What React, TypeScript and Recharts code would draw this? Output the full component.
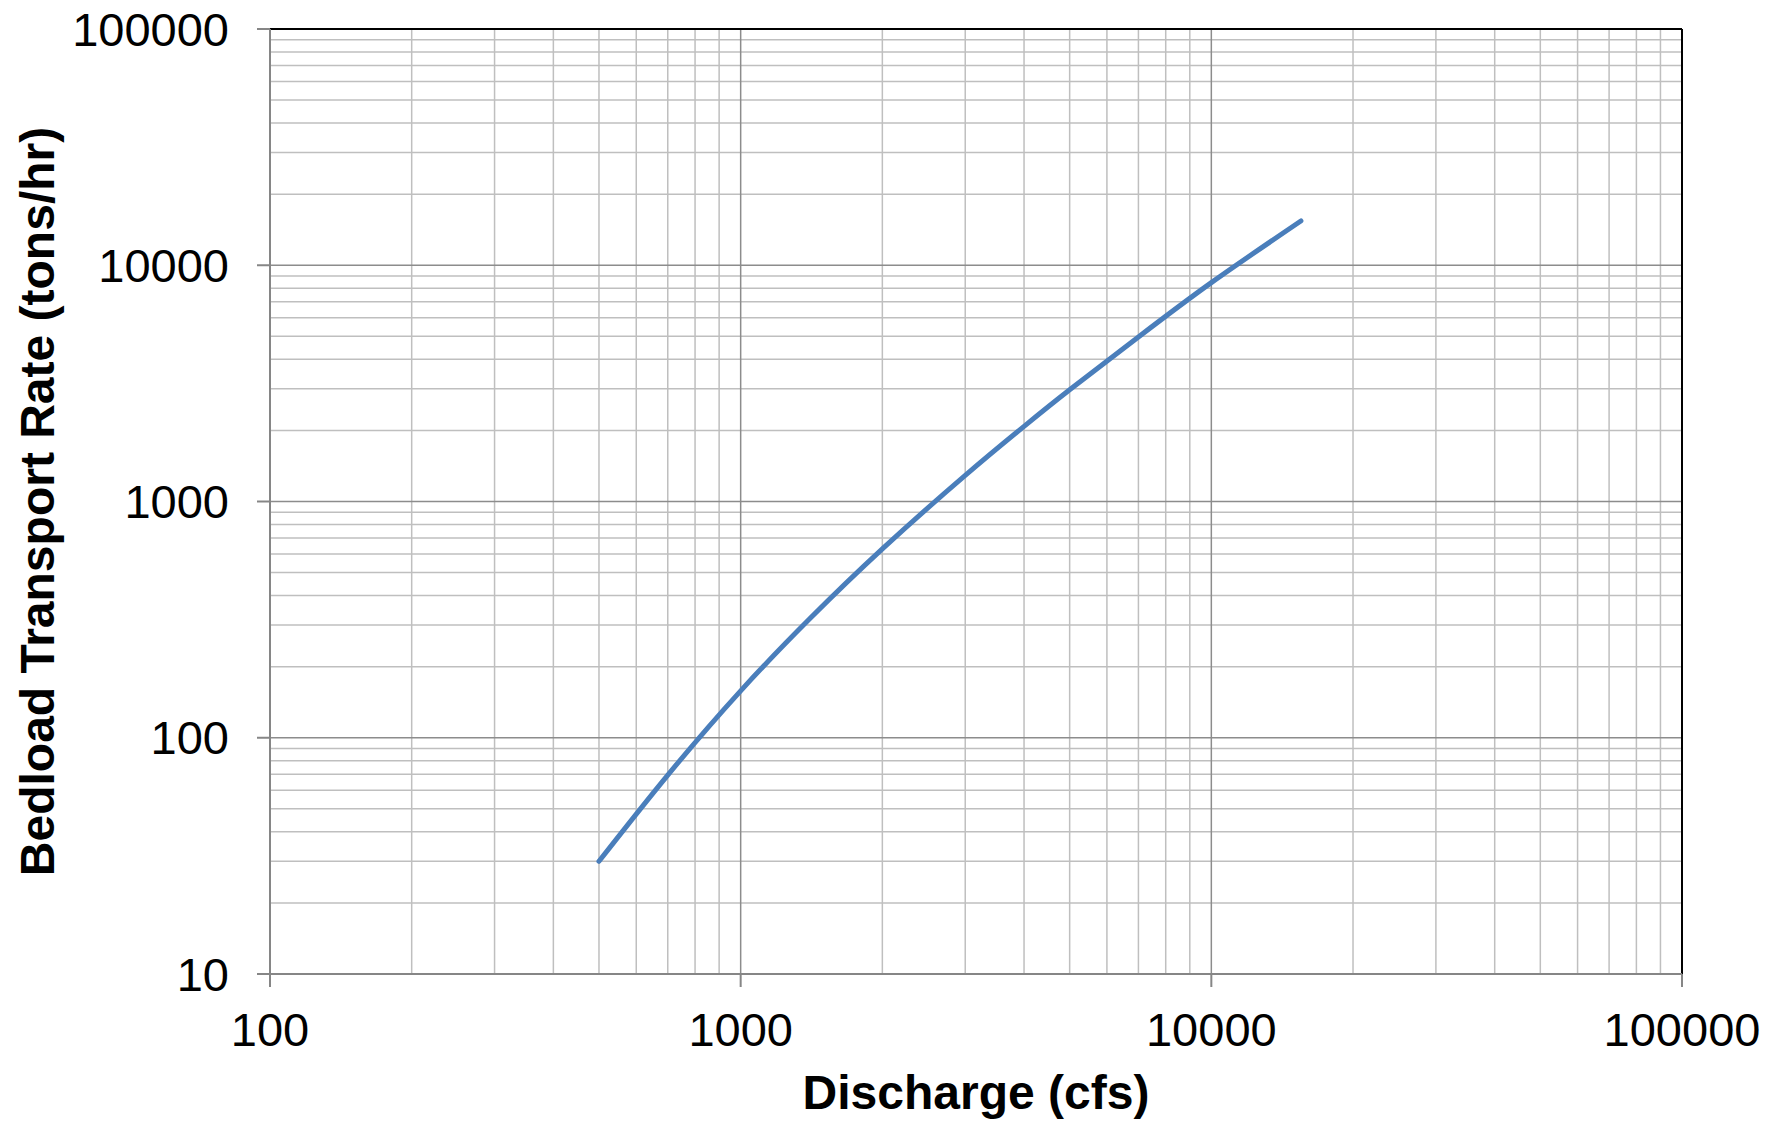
import React from 'react';
import {CartesianGrid, Line, LineChart, ReferenceLine, XAxis, YAxis} from 'recharts';

// values (log-log)
const discharge = [500, 700, 1000, 1400, 2000, 3000, 4000, 5000, 7000, 10000, 15500];
const transport = [30, 69.5, 158, 318, 630, 1290, 2080, 2970, 4970, 8440, 15400];

const xTicks = [100, 1000, 10000, 100000];
const yTicks = [10, 100, 1000, 10000, 100000];
const xMinor = [200, 300, 400, 500, 600, 700, 800, 900, 2000, 3000, 4000, 5000, 6000, 7000, 8000, 9000,
  20000, 30000, 40000, 50000, 60000, 70000, 80000, 90000];
const yMinor = [20, 30, 40, 50, 60, 70, 80, 90, 200, 300, 400, 500, 600, 700, 800, 900,
  2000, 3000, 4000, 5000, 6000, 7000, 8000, 9000, 20000, 30000, 40000, 50000, 60000, 70000, 80000, 90000];
const xMajor = [1000, 10000];
const yMajor = [100, 1000, 10000];

const data = discharge.map((q, i) => ({q, rate: transport[i]}));

const FONT = '"Liberation Sans", Arial, sans-serif';

const YTitle = ({viewBox}) => {
  const cx = viewBox.x + 37;
  const cy = viewBox.y + viewBox.height / 2;
  return (
    <text x={cx} y={cy} transform={`rotate(-90, ${cx}, ${cy})`} textAnchor="middle" dominantBaseline="central"
          fontFamily={FONT} fontSize={48} fontWeight="bold" fill="#000">
      Bedload Transport Rate (tons/hr)
    </text>
  );
};

const XTitle = ({viewBox}) => (
  <text x={viewBox.x + viewBox.width / 2} y={viewBox.y + 135} textAnchor="middle"
        fontFamily={FONT} fontSize={48} fontWeight="bold" fill="#000">
    Discharge (cfs)
  </text>
);

export default function App() {
  const tickStyle = {fontFamily: FONT, fontSize: 47, fill: '#000'};
  const axisStroke = {stroke: '#868686', strokeWidth: 2};
  return (
    <div style={{position: 'absolute', left: 0, top: 0, background: '#fff'}}>
      <LineChart width={1786} height={1123} data={data} margin={{top: 29, right: 104, bottom: 0, left: 0}}>
        <CartesianGrid horizontalValues={yMinor} verticalValues={xMinor} stroke="#bfbfbf" strokeWidth={1.5}/>
        <CartesianGrid horizontalValues={yMajor} verticalValues={xMajor} stroke="#8c8c8c" strokeWidth={1.5}/>
        <ReferenceLine y={100000} stroke="#000" strokeWidth={2}/>
        <ReferenceLine x={100000} stroke="#000" strokeWidth={2}/>
        <XAxis dataKey="q" type="number" scale="log" domain={[100, 100000]} ticks={xTicks} allowDataOverflow
               height={149} tickSize={13} tickMargin={26} tick={tickStyle} axisLine={axisStroke} tickLine={axisStroke}
               interval={0} label={{content: XTitle}}/>
        <YAxis type="number" scale="log" domain={[10, 100000]} ticks={yTicks} allowDataOverflow
               width={270} tickSize={13} tickMargin={28} tick={tickStyle} axisLine={axisStroke} tickLine={axisStroke}
               interval={0} label={{content: YTitle}}/>
        <Line dataKey="rate" type="natural" stroke="#4a7ebb" strokeWidth={5} strokeLinecap="round"
              dot={false} isAnimationActive={false}/>
      </LineChart>
    </div>
  );
}
